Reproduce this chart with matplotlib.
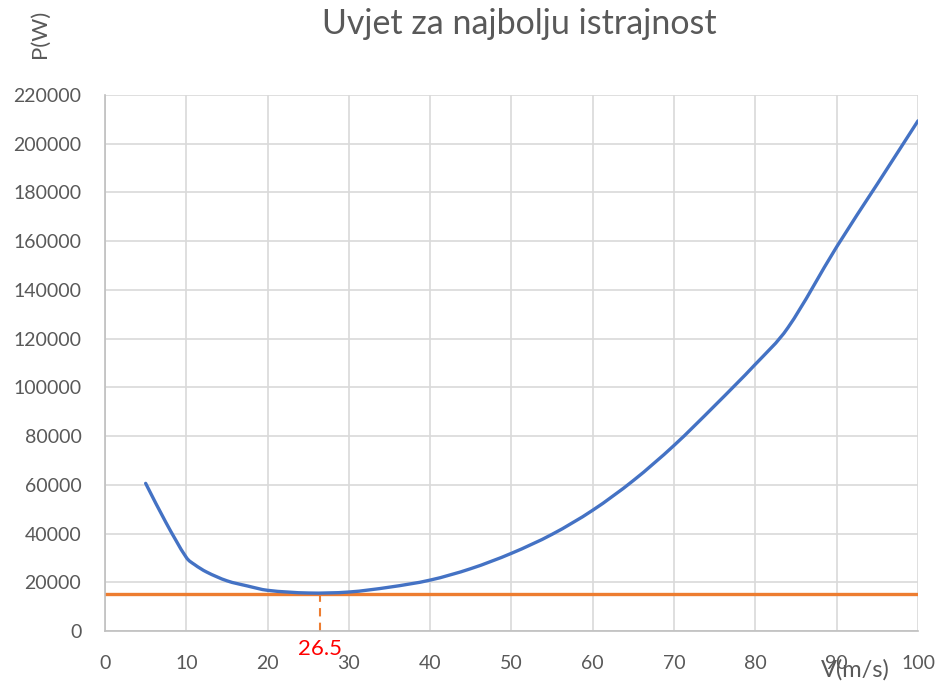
import numpy as np
import matplotlib
matplotlib.use('Agg')
import matplotlib.pyplot as plt
from matplotlib.path import Path
from matplotlib.patches import PathPatch

plt.rcParams['font.family'] = ['Lato', 'DejaVu Sans']

# values
v = [5, 7.5, 10, 11, 12.5, 15, 17.5, 20, 25, 30, 35, 40, 45, 50, 55, 60,
     65, 70, 75, 80, 84, 90, 95, 100]
p = [60600, 44500, 30200, 27300, 24200, 20600, 18500, 16700, 15600, 16000, 18000,
     20900, 25600, 31900, 39700, 49600, 61800, 76200, 92500, 109500, 124500,
     157700, 183500, 209400]
v_line = [0, 100]
p_line = [15000, 15000]
v_opt = 26.5

blue = '#4472C4'
orange = '#ED7D31'
grey = '#595959'


def smooth(x, y):
    # smoothed line like excel, drawn as bezier segments through the points
    x = np.asarray(x, float)
    y = np.asarray(y, float)
    n = len(x)
    m = np.empty(n)
    m[0] = (y[1] - y[0]) / (x[1] - x[0])
    m[-1] = (y[-1] - y[-2]) / (x[-1] - x[-2])
    m[1:-1] = (y[2:] - y[:-2]) / (x[2:] - x[:-2])
    verts = [(x[0], y[0])]
    codes = [Path.MOVETO]
    for i in range(n - 1):
        h = x[i + 1] - x[i]
        verts += [(x[i] + h / 3, y[i] + m[i] * h / 3),
                  (x[i + 1] - h / 3, y[i + 1] - m[i + 1] * h / 3),
                  (x[i + 1], y[i + 1])]
        codes += [Path.CURVE4] * 3
    return Path(verts, codes)


fig = plt.figure(figsize=(9.41, 6.89), dpi=100)
ax = fig.add_axes([105/941, 1-631/689, (918-105)/941, (631-95)/689])

ax.add_patch(PathPatch(smooth(v, p), fill=False, edgecolor=blue, lw=2.4,
                       capstyle='round', zorder=3))
ax.plot(v_line, p_line, color=orange, lw=2.4, zorder=2)
ax.plot([v_opt, v_opt], [0, p_line[0]], color=orange, lw=1.5, ls=(0, (4, 3)), zorder=2)

ax.annotate('26.5', xy=(v_opt, 0), xytext=(0, -6), textcoords='offset points',
            ha='center', va='top', color='red', fontsize=16, annotation_clip=False)

ax.set_xlim(0, 100)
ax.set_ylim(0, 220000)
ax.set_xticks(range(0, 101, 10))
ax.set_yticks(range(0, 220001, 20000))
ax.grid(True, color='#D9D9D9', lw=1.2)
ax.set_axisbelow(True)
for s in ['top', 'right']:
    ax.spines[s].set_visible(False)
for s in ['left', 'bottom']:
    ax.spines[s].set_color('#BFBFBF')
    ax.spines[s].set_linewidth(1.2)
ax.tick_params(length=0, labelsize=14, labelcolor=grey, pad=17)

fig.text(519/941, 1-34/689, 'Uvjet za najbolju istrajnost', ha='center', va='baseline',
         fontsize=24.5, color=grey)
fig.text(40/941, 1-34/689, 'P(W)', ha='center', va='center', rotation=90,
         fontsize=16, color=grey)
fig.text(855/941, 1-670/689, 'V(m/s)', ha='center', va='center',
         fontsize=17, color=grey)

fig.savefig('out.png', dpi=100)
